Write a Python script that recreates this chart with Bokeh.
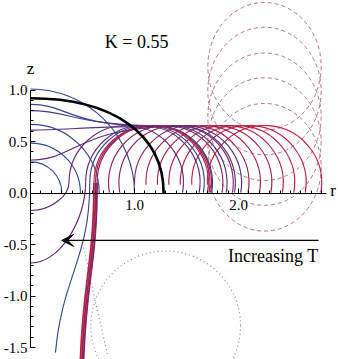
import numpy as np
from bokeh.plotting import figure
from bokeh.models import Range1d, LinearAxis, FixedTicker, PrintfTickFormatter, Arrow, VeeHead, Label
from bokeh.embed import file_html
from bokeh.resources import INLINE

# ---------------- data ----------------
arc_radius = 0.55          # radius of the family arcs
arc_center_z = 0.10        # height of the arc centres

red_centers = [1.55, 1.66, 1.77, 1.88, 1.99, 2.10, 2.25]
purple_centers = [1.30, 1.40]

top_start_z = [0.86, 0.80, 0.61, 0.32]
top_join_c = [1.20, 1.34, 1.42, 1.48]

low_start_r = [0.0, 0.0, 0.24, 0.48, 0.495, 0.51]
low_start_z = [-0.17, -0.68, -1.55, -1.62, -1.62, -1.62]
low_join_c = [0.92, 1.08, 1.12, 1.16, 1.175, 1.19]

blue_radii = [0.30, 0.48, 0.66, 1.00]

black_z0 = 0.92
black_r_end = 1.28

dash_r = 2.25
dash_z = [1.23, 0.99, 0.74, 0.50, 0.25]
dash_w = 1.09
dash_h = 1.24

dot_r, dot_z, dot_radius = 1.30, -1.29, 0.72
dot_line_r = [0.51, 0.62, 0.74]
dot_line_z = [-0.53, -1.04, -1.57]

arrow_z = -0.46
arrow_r_start = 2.77
arrow_r_end = 0.30

y_ticks = [-1.5, -1.0, -0.5, 0.0, 0.5, 1.0]
x_ticks = [1.0, 2.0]

# ---------------- figure ----------------
p = figure(width=338, height=359, output_backend="svg", toolbar_location=None,
           x_range=Range1d(-0.2885, 2.9615), y_range=Range1d(-1.6165, 1.869),
           x_axis_location=None, y_axis_location=None, min_border=0)
p.title.visible = False
p.outline_line_color = None
p.grid.visible = False
p.background_fill_color = "white"

NAVY = "#3a4690"
PURPLE = "#5e2c74"
RED = "#c41e3e"
LW = 1.15

def mix(c1, c2, t):
    a = [int(c1[i:i+2], 16) for i in (1, 3, 5)]
    b = [int(c2[i:i+2], 16) for i in (1, 3, 5)]
    return "#%02x%02x%02x" % tuple(int(round(a[k] + (b[k]-a[k])*t)) for k in range(3))

# dashed ellipses
p.ellipse(x=[dash_r]*len(dash_z), y=dash_z, width=dash_w, height=dash_h,
          fill_color=None, line_color="#b07684", line_dash="4 3", line_width=1)

# dotted circle + dotted curve
p.circle(x=[dot_r], y=[dot_z], radius=dot_radius, fill_color=None,
         line_color="#8a8a8a", line_dash="1 3", line_width=1.2)
p.line(dot_line_r, dot_line_z, line_color="#8a8a8a", line_dash="1 3", line_width=1.2)

# blue quarter circles
p.arc(x=[0]*len(blue_radii), y=[0]*len(blue_radii), radius=blue_radii,
      start_angle=0, end_angle=np.pi/2, line_color=NAVY, line_width=LW)

# red full arcs
for i, c in enumerate(red_centers):
    col = mix(PURPLE, RED, 0.55 + 0.45*i/(len(red_centers)-1))
    p.arc(x=[c], y=[arc_center_z], radius=arc_radius, start_angle=np.radians(-10),
          end_angle=np.radians(182), line_color=col, line_width=LW)

for c in purple_centers:
    p.arc(x=[c], y=[arc_center_z], radius=arc_radius, start_angle=np.radians(-10),
          end_angle=np.radians(190), line_color=mix(PURPLE, RED, 0.4), line_width=LW)

# curves starting on the axis above, joining arc tops
top_z = arc_center_z + arc_radius
for i, (z0, c) in enumerate(zip(top_start_z, top_join_c)):
    col = mix(NAVY, PURPLE, i/(len(top_start_z)-1))
    p.bezier(x0=[0], y0=[z0], x1=[c], y1=[top_z], cx0=[0.3*c], cy0=[z0],
             cx1=[0.3*c], cy1=[top_z], line_color=col, line_width=LW)
    p.arc(x=[c], y=[arc_center_z], radius=arc_radius, start_angle=np.radians(-10),
          end_angle=np.radians(90), line_color=col, line_width=LW)

# curves from below joining arc left side
for i, (r0, z0, c) in enumerate(zip(low_start_r, low_start_z, low_join_c)):
    xj = c - arc_radius
    zj = arc_center_z
    if r0 == 0:
        cx0, cy0 = r0 + 0.55*(xj - r0), z0
    else:
        cx0, cy0 = r0 + 0.2*(xj - r0), z0 + 0.45*(zj - z0)
    cx1, cy1 = xj, zj - 0.45*(zj - z0)
    col = [PURPLE, PURPLE, NAVY, RED, mix(PURPLE, RED, 0.5), "#8a1f5a"][i]
    w = LW if i < 3 else 1.8
    p.bezier(x0=[r0], y0=[z0], x1=[xj], y1=[zj], cx0=[cx0], cy0=[cy0],
             cx1=[cx1], cy1=[cy1], line_color=col, line_width=w)
    p.arc(x=[c], y=[arc_center_z], radius=arc_radius, start_angle=np.radians(-10),
          end_angle=np.radians(180), line_color=col, line_width=LW)

# black thick curve
p.bezier(x0=[0], y0=[black_z0], x1=[black_r_end], y1=[0],
         cx0=[0.62*black_r_end], cy0=[black_z0], cx1=[black_r_end], cy1=[0.62*black_z0],
         line_color="black", line_width=2.6)

# axes
FONT = "Liberation Serif"
xaxis = LinearAxis(fixed_location=0, bounds=(0, 2.85),
                   ticker=FixedTicker(ticks=x_ticks,
                                      minor_ticks=[round(v, 1) for v in np.arange(0.1, 2.85, 0.1)]),
                   formatter=PrintfTickFormatter(format="%.1f"))
yaxis = LinearAxis(fixed_location=0, bounds=(-1.5, 1.0),
                   ticker=FixedTicker(ticks=y_ticks,
                                      minor_ticks=[round(v, 1) for v in np.arange(-1.5, 1.01, 0.1)]),
                   formatter=PrintfTickFormatter(format="%.1f"))
for ax in (xaxis, yaxis):
    ax.major_tick_in = 5
    ax.major_tick_out = 0
    ax.minor_tick_in = 3
    ax.minor_tick_out = 0
    ax.axis_line_color = "black"
    ax.major_tick_line_color = "black"
    ax.minor_tick_line_color = "black"
    ax.major_label_text_font = FONT
    ax.major_label_text_font_size = "15px"
    ax.major_label_text_color = "black"
xaxis.major_label_standoff = 7
yaxis.major_label_standoff = 3
p.add_layout(xaxis, "below")
p.add_layout(yaxis, "left")

# arrow
p.add_layout(Arrow(end=VeeHead(size=12, fill_color="black", line_color="black"),
                   x_start=arrow_r_start, y_start=arrow_z, x_end=arrow_r_end, y_end=arrow_z,
                   line_color="black", line_width=1.3))

# texts
p.add_layout(Label(x=1.02, y=1.47, text="K = 0.55", text_font=FONT, text_font_size="18px",
                   text_align="center", text_baseline="middle", text_color="black"))
p.add_layout(Label(x=0.0, y=1.21, text="z", text_font=FONT, text_font_size="17px",
                   text_align="center", text_baseline="middle", text_color="black"))
p.add_layout(Label(x=2.91, y=0.02, text="r", text_font=FONT, text_font_size="17px",
                   text_align="center", text_baseline="middle", text_color="black"))
p.add_layout(Label(x=1.90, y=-0.61, text="Increasing T", text_font=FONT, text_font_size="18px",
                   text_align="left", text_baseline="middle", text_color="black"))

open("out.html", "w").write(file_html(p, INLINE))
